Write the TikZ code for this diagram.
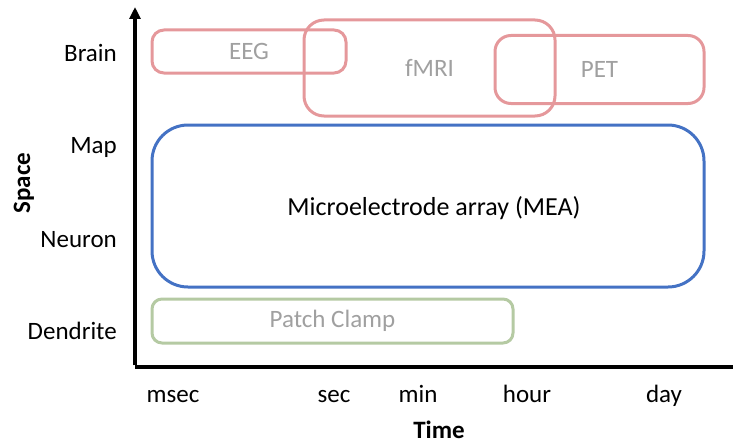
\documentclass[tikz,border=0pt]{standalone}
\usepackage{fontspec}
\setmainfont{Carlito}
\usetikzlibrary{arrows.meta}
\definecolor{pinkc}{RGB}{229,152,155}
\definecolor{bluec}{RGB}{68,114,196}
\definecolor{greenc}{RGB}{181,202,163}
\definecolor{grayt}{RGB}{160,160,160}
\begin{document}
\begin{tikzpicture}[x=1pt,y=-1pt,
  every node/.style={font=\fontsize{25}{30}\selectfont, inner sep=0pt},
  pinkbox/.style={draw=pinkc, line width=3pt, text=grayt},
  bluebox/.style={draw=bluec, line width=3pt, rounded corners=36pt, text=black},
  greenbox/.style={draw=greenc, line width=3pt, rounded corners=10pt, text=grayt},
  axisline/.style={line width=3.5pt, black},
  lbl/.style={anchor=base east},
  tick/.style={anchor=base}]
\useasboundingbox (0,0) rectangle (733,444);
% axes
\coordinate (origin) at (135,367);
\coordinate (ytop) at (135,7);
\coordinate (xend) at (740,367);
\draw[axisline] (origin) -- (xend);
\draw[axisline, -{Triangle[length=12pt,width=11pt]}] ([yshift=1.75pt]origin) -- (ytop);
% boxes
\node[pinkbox, rounded corners=12pt, minimum width=194pt, minimum height=43pt] (eeg) at (249,51.5) {EEG};
\node[pinkbox, rounded corners=20pt, minimum width=251pt, minimum height=96pt] (fmri) at (429.5,68) {fMRI};
\node[pinkbox, rounded corners=16pt, minimum width=209pt, minimum height=68pt] (pet) at (599.5,69.5) {PET};
\node[bluebox, minimum width=552pt, minimum height=162pt] (mea) at (428,206) {};
\node[font=\fontsize{26}{30}\selectfont] (meat) at (434,208) {Microelectrode array (MEA)};
\node[greenbox, minimum width=361pt, minimum height=44pt] (patch) at (332.5,321) {Patch Clamp};
% y labels
\node[lbl] (brain) at (117,62) {Brain};
\node[lbl] (map) at (117,153) {Map};
\node[lbl] (neuron) at (117,247) {Neuron};
\node[lbl] (dendrite) at (117,339) {Dendrite};
\node[rotate=90, font=\fontsize{25}{30}\selectfont\bfseries] (space) at (24,183) {Space};
% x labels
\node[tick] (msec) at (173,402) {msec};
\node[tick] (sec) at (334,402) {sec};
\node[tick] (min) at (418,402) {min};
\node[tick] (hour) at (527,402) {hour};
\node[tick] (day) at (664,402) {day};
\node[font=\fontsize{25}{30}\selectfont\bfseries, anchor=base] (time) at (439,438) {Time};
\end{tikzpicture}
\end{document}
